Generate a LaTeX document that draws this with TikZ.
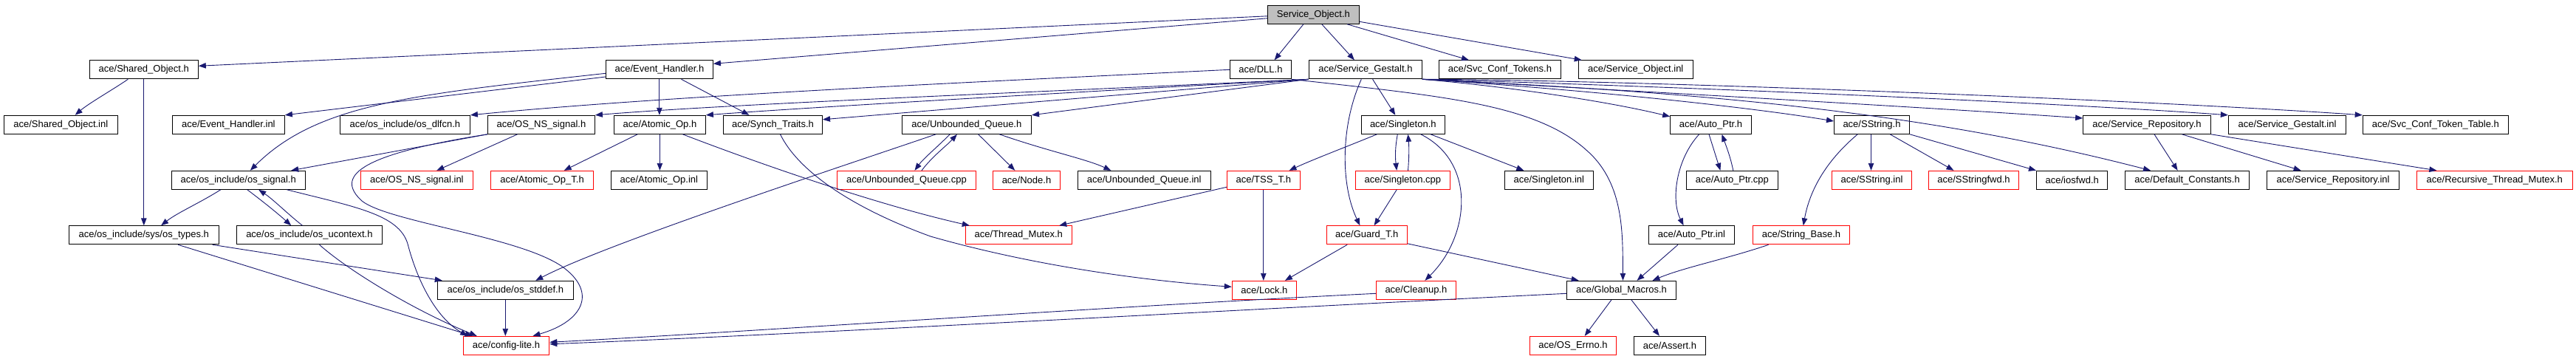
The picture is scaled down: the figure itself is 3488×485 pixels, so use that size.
\documentclass[tikz,border=0pt]{standalone}
\usepackage{fontspec}
\setmainfont{Liberation Sans}
\usetikzlibrary{arrows.meta}
\definecolor{edgecol}{HTML}{191970}
\definecolor{rootgray}{HTML}{BFBFBF}
\definecolor{redline}{HTML}{FF0000}
\begin{document}
\begin{tikzpicture}[x=1pt,y=-1pt,
  bx/.style={draw=black,line width=1pt,minimum height=25pt,inner sep=0pt,font=\fontsize{13pt}{15pt}\selectfont},
  rbx/.style={bx,draw=redline},
  dep/.style={draw=edgecol,line width=0.9pt,-{Triangle[length=10pt,width=7.5pt]},fill=none}]
\useasboundingbox (0,0) rectangle (3488,485);
\fill[white] (0,0) rectangle (3488,485);
% row 0
\node[bx,fill=rootgray,minimum width=124pt] (SO) at (1778.4,19.8) {Service\_Object.h};
% row 1
\node[bx,minimum width=147pt] (SharedObj) at (194.8,94.3) {ace/Shared\_Object.h};
\node[bx,minimum width=145pt] (EventH) at (892.9,94.3) {ace/Event\_Handler.h};
\node[bx,minimum width=83pt] (DLL) at (1706.9,94.3) {ace/DLL.h};
\node[bx,minimum width=153pt] (SG) at (1848.9,94.3) {ace/Service\_Gestalt.h};
\node[bx,minimum width=164.5pt] (SvcTok) at (2030.9,94.3) {ace/Svc\_Conf\_Tokens.h};
\node[bx,minimum width=155pt] (SOinl) at (2214.7,94.3) {ace/Service\_Object.inl};
% row 2
\node[bx,minimum width=154pt] (SharedObjInl) at (82.3,168.8) {ace/Shared\_Object.inl};
\node[bx,minimum width=152pt] (EventHinl) at (309.4,168.8) {ace/Event\_Handler.inl};
\node[bx,minimum width=176pt] (osdlfcn) at (548.4,168.8) {ace/os\_include/os\_dlfcn.h};
\node[bx,minimum width=145pt] (OSNSsignal) at (732.9,168.8) {ace/OS\_NS\_signal.h};
\node[bx,minimum width=124pt] (AtomicOp) at (893.4,168.8) {ace/Atomic\_Op.h};
\node[bx,minimum width=134pt] (SynchTraits) at (1046.5,168.8) {ace/Synch\_Traits.h};
\node[bx,minimum width=175.3pt] (UQ) at (1308.9,168.8) {ace/Unbounded\_Queue.h};
\node[bx,minimum width=113pt] (Singleton) at (1899.8,168.8) {ace/Singleton.h};
\node[bx,minimum width=109.7pt] (AutoPtr) at (2316.5,168.8) {ace/Auto\_Ptr.h};
\node[bx,minimum width=102pt] (SString) at (2534.5,168.8) {ace/SString.h};
\node[bx,minimum width=172.8pt] (ServiceRepo) at (2907,168.8) {ace/Service\_Repository.h};
\node[bx,minimum width=159.3pt] (SGinl) at (3097,168.8) {ace/Service\_Gestalt.inl};
\node[bx,minimum width=197.2pt] (SvcTokTable) at (3297.8,168.8) {ace/Svc\_Conf\_Token\_Table.h};
% row 3
\node[bx,minimum width=181pt] (ossignal) at (322.8,243.8) {ace/os\_include/os\_signal.h};
\node[rbx,minimum width=152.2pt] (OSNSsignalinl) at (564.4,243.8) {ace/OS\_NS\_signal.inl};
\node[rbx,minimum width=139pt] (AtomicOpT) at (734,243.8) {ace/Atomic\_Op\_T.h};
\node[bx,minimum width=130pt] (AtomicOpinl) at (892.3,243.8) {ace/Atomic\_Op.inl};
\node[rbx,minimum width=188pt] (UQcpp) at (1227.5,243.8) {ace/Unbounded\_Queue.cpp};
\node[rbx,minimum width=91pt] (NodeH) at (1390,243.8) {ace/Node.h};
\node[bx,minimum width=179.8pt] (UQinl) at (1549.2,243.8) {ace/Unbounded\_Queue.inl};
\node[rbx,minimum width=99pt] (TSST) at (1710.8,243.8) {ace/TSS\_T.h};
\node[rbx,minimum width=128pt] (Singletoncpp) at (1899.4,243.8) {ace/Singleton.cpp};
\node[bx,minimum width=119.7pt] (Singletoninl) at (2097.3,243.8) {ace/Singleton.inl};
\node[bx,minimum width=124pt] (AutoPtrcpp) at (2345.4,243.8) {ace/Auto\_Ptr.cpp};
\node[rbx,minimum width=108.4pt] (SStringinl) at (2534.5,243.8) {ace/SString.inl};
\node[rbx,minimum width=122.5pt] (SStringfwd) at (2672.5,243.8) {ace/SStringfwd.h};
\node[bx,minimum width=96.5pt] (iosfwd) at (2805.7,243.8) {ace/iosfwd.h};
\node[bx,minimum width=168pt] (DefaultConst) at (2961.6,243.8) {ace/Default\_Constants.h};
\node[bx,minimum width=179.2pt] (ServiceRepoinl) at (3159.1,243.8) {ace/Service\_Repository.inl};
\node[rbx,minimum width=211.5pt] (RecThreadMutex) at (3377.8,243.8) {ace/Recursive\_Thread\_Mutex.h};
% row 4
\node[bx,minimum width=202.8pt] (ostypes) at (194.8,318.3) {ace/os\_include/sys/os\_types.h};
\node[bx,minimum width=197pt] (osucontext) at (418.9,318.3) {ace/os\_include/os\_ucontext.h};
\node[rbx,minimum width=144pt] (ThreadMutex) at (1379.3,318.3) {ace/Thread\_Mutex.h};
\node[rbx,minimum width=109pt] (GuardT) at (1850.8,318.3) {ace/Guard\_T.h};
\node[bx,minimum width=115.8pt] (AutoPtrinl) at (2290.4,318.3) {ace/Auto\_Ptr.inl};
\node[rbx,minimum width=131pt] (StringBase) at (2439,318.3) {ace/String\_Base.h};
% row 5
\node[bx,minimum width=184pt] (osstddef) at (684.3,392.8) {ace/os\_include/os\_stddef.h};
\node[rbx,minimum width=87.3pt] (Lock) at (1711.9,392.8) {ace/Lock.h};
\node[rbx,minimum width=108pt] (Cleanup) at (1917.4,392.8) {ace/Cleanup.h};
\node[bx,minimum width=147.7pt] (GlobalMacros) at (2195.5,392.8) {ace/Global\_Macros.h};
% row 6
\node[rbx,minimum width=116.7pt] (configlite) at (685.5,467.8) {ace/config-lite.h};
\node[rbx,minimum width=117pt] (OSErrno) at (2130,467.8) {ace/OS\_Errno.h};
\node[bx,minimum width=97pt] (Assert) at (2260.9,467.8) {ace/Assert.h};
% edges from Service_Object.h
\draw[dep] ([yshift=-2pt]SO.west) -- ([yshift=5pt]SharedObj.east);
\draw[dep] ([yshift=-5pt]SO.west) -- ([yshift=8pt]EventH.east);
\draw[dep] ([xshift=-13.5pt]SO.south) -- ([xshift=18.7pt]DLL.north);
\draw[dep] ([xshift=11.4pt]SO.south) -- ([xshift=-15pt]SG.north);
\draw[dep] ([xshift=45.8pt]SO.south) -- ([xshift=-42pt]SvcTok.north);
\draw[dep] ([yshift=-9.5pt]SO.east) -- ([xshift=5pt]SOinl.north west);
% Shared_Object.h
\draw[dep] ([xshift=-21.5pt]SharedObj.south) .. controls (155,120) and (120,140) .. ([xshift=19.4pt]SharedObjInl.north);
\draw[dep] (SharedObj.south) -- (ostypes.north);
% Event_Handler.h
\draw[dep] ([yshift=-9.7pt]EventH.west) -- (EventHinl.north east);
\draw[dep] ([yshift=-5pt]EventH.west) .. controls (560,128) and (430,140) .. ([xshift=16pt]ossignal.north);
\draw[dep] (EventH.south) -- (EventH.south |- AtomicOp.north);
\draw[dep] ([xshift=29.6pt]EventH.south) -- ([xshift=-32pt]SynchTraits.north);
% DLL.h
\draw[dep] (DLL.west) .. controls (1300,112) and (900,130) .. (osdlfcn.north east);
\draw[dep] (DLL.south east) .. controls (1950,130) and (2080,140) .. (2150,205) .. controls (2200,250) and (2197,320) .. ([xshift=2pt]GlobalMacros.north);
% Service_Gestalt.h
\draw[dep] (SG.south west) .. controls (1400,125) and (1000,140) .. (OSNSsignal.north east);
\draw[dep] (SG.south west) .. controls (1400,128) and (1100,145) .. (AtomicOp.north east);
\draw[dep] (SG.south west) -- ([yshift=7pt]SynchTraits.east);
\draw[dep] (SG.south west) -- (UQ.north east);
\draw[dep] ([xshift=9.7pt]SG.south) -- ([xshift=-10.5pt]Singleton.north);
\draw[dep] ([xshift=-5.6pt]SG.south) .. controls (1815,170) and (1815,250) .. ([xshift=-9.4pt]GuardT.north);
\draw[dep] (SG.south east) .. controls (2050,118) and (2180,138) .. ([yshift=-2pt]AutoPtr.north west);
\draw[dep] (SG.south east) .. controls (2200,125) and (2400,150) .. ([yshift=4.8pt]SString.west);
\draw[dep] (SG.south east) .. controls (2250,125) and (2650,148) .. ([yshift=8.8pt]ServiceRepo.west);
\draw[dep] (SG.south east) .. controls (2300,125) and (2600,150) .. ([xshift=-49.6pt]DefaultConst.north);
\draw[dep] (SG.south east) .. controls (2300,118) and (2800,140) .. (SGinl.north west);
\draw[dep] (SG.south east) .. controls (2200,108) and (2900,135) .. (SvcTokTable.north west);
% OS_NS_signal.h
\draw[dep] (OSNSsignal.south west) -- ([xshift=71.4pt]ossignal.north);
\draw[dep] (OSNSsignal.south west) .. controls (480,210) and (455,240) .. (490,272) .. controls (525,300) and (700,320) .. (760,360) .. controls (810,395) and (790,435) .. ([xshift=36pt]configlite.north);
\draw[dep] ([xshift=-32.3pt]OSNSsignal.south) -- ([xshift=27pt]OSNSsignalinl.north);
% Atomic_Op.h
\draw[dep] ([xshift=-30.2pt]AtomicOp.south) -- ([xshift=29.7pt]AtomicOpT.north);
\draw[dep] (AtomicOp.south) -- (AtomicOp.south |- AtomicOpinl.north);
\draw[dep] ([xshift=31pt]AtomicOp.south) .. controls (1050,230) and (1200,280) .. ([xshift=6pt]ThreadMutex.north west);
% Synch_Traits.h
\draw[dep] ([xshift=10pt]SynchTraits.south) .. controls (1080,230) and (1150,280) .. (1260,320) .. controls (1400,360) and (1550,380) .. ([yshift=4.5pt]Lock.west);
% Unbounded_Queue.h
\draw[dep] ([xshift=-22.6pt]UQ.south) .. controls (1268,200) and (1250,215) .. ([xshift=11pt]UQcpp.north);
\draw[dep] ([xshift=20.5pt]UQcpp.north) .. controls (1262,212) and (1282,197) .. ([xshift=-13pt]UQ.south);
\draw[dep] ([xshift=15.7pt]UQ.south) -- ([xshift=-15.7pt]NodeH.north);
\draw[dep] ([xshift=44.4pt]UQ.south) .. controls (1420,205) and (1470,215) .. ([xshift=-44.8pt]UQinl.north);
\draw[dep] ([xshift=-41.7pt]UQ.south) .. controls (1150,222) and (820,330) .. ([xshift=41pt]osstddef.north);
% os_signal.h
\draw[dep] ([xshift=-24pt]ossignal.south) .. controls (270,275) and (240,288) .. ([xshift=23.3pt]ostypes.north);
\draw[dep] ([xshift=12pt]ossignal.south) .. controls (355,272) and (375,288) .. ([xshift=-24.7pt]osucontext.north);
\draw[dep] ([xshift=-9.4pt]osucontext.north) .. controls (390,290) and (370,270) .. ([xshift=27.4pt]ossignal.south);
\draw[dep] ([xshift=65.6pt]ossignal.south) .. controls (480,280) and (540,290) .. (552,330) .. controls (565,380) and (590,430) .. ([xshift=6.5pt]configlite.north west);
% os_types.h, os_ucontext.h, os_stddef.h
\draw[dep] ([xshift=46.3pt]ostypes.south) -- ([xshift=13pt]configlite.north west);
\draw[dep] ([xshift=-9pt]ostypes.south east) -- ([xshift=7pt]osstddef.north west);
\draw[dep] ([xshift=13.6pt]osucontext.south) .. controls (470,365) and (560,420) .. ([xshift=19pt]configlite.north west);
\draw[dep] (osstddef.south) -- (osstddef.south |- configlite.north);
% Singleton.h
\draw[dep] ([xshift=-35.4pt]Singleton.south) .. controls (1820,200) and (1780,215) .. ([xshift=34.7pt]TSST.north);
\draw[dep] ([xshift=-7.5pt]Singleton.south) .. controls (1889,200) and (1889,212) .. ([xshift=-8.2pt]Singletoncpp.north);
\draw[dep] ([xshift=7.1pt]Singletoncpp.north) .. controls (1908,212) and (1908,200) .. ([xshift=6.7pt]Singleton.south);
\draw[dep] ([xshift=24pt]Singleton.south) .. controls (2000,220) and (1990,320) .. ([xshift=12pt]Cleanup.north);
\draw[dep] ([xshift=37.3pt]Singleton.south) -- ([xshift=-34pt]Singletoninl.north);
\draw[dep] ([xshift=-8.2pt]Singletoncpp.south) -- ([xshift=9.8pt]GuardT.north);
% Guard_T.h, TSS_T.h
\draw[dep] ([xshift=-26.6pt]GuardT.south) -- ([xshift=28pt]Lock.north);
\draw[dep] ([yshift=1.5pt]GuardT.south east) -- ([xshift=16.5pt]GlobalMacros.north west);
\draw[dep] ([yshift=-9.5pt]TSST.west) -- ([xshift=-17.6pt]ThreadMutex.north east);
\draw[dep] (TSST.south) -- (TSST.south |- Lock.north);
% Cleanup.h, Global_Macros.h
\draw[dep] ([yshift=-4.5pt]Cleanup.west) .. controls (1500,415) and (1000,450) .. ([yshift=4.5pt]configlite.east);
\draw[dep] ([yshift=-4.5pt]GlobalMacros.west) .. controls (1700,418) and (1100,452) .. ([yshift=2pt]configlite.east);
\draw[dep] ([xshift=-13.5pt]GlobalMacros.south) -- ([xshift=15.7pt]OSErrno.north);
\draw[dep] ([xshift=13.3pt]GlobalMacros.south) -- ([xshift=-14pt]Assert.north);
% Auto_Ptr.h
\draw[dep] ([xshift=-2.5pt]AutoPtr.south) -- ([xshift=-16pt]AutoPtrcpp.north);
\draw[dep] ([xshift=1.4pt]AutoPtrcpp.north) .. controls (2343,212) and (2337,197) .. ([xshift=15pt]AutoPtr.south);
\draw[dep] ([xshift=-15.8pt]AutoPtr.south) .. controls (2270,215) and (2262,270) .. ([xshift=-10.8pt]AutoPtrinl.north);
\draw[dep] ([xshift=-18.4pt]AutoPtrinl.south) -- ([xshift=21pt]GlobalMacros.north);
\draw[dep] ([xshift=-44.4pt]StringBase.south) .. controls (2340,350) and (2280,362) .. ([xshift=42pt]GlobalMacros.north);
% SString.h
\draw[dep] ([xshift=-19.3pt]SString.south) .. controls (2470,220) and (2450,260) .. ([xshift=2.7pt]StringBase.north);
\draw[dep] ([xshift=-1pt]SString.south) -- ([xshift=-1pt]SStringinl.north);
\draw[dep] ([xshift=24.7pt]SString.south) -- ([xshift=-27pt]SStringfwd.north);
\draw[dep] (SString.south east) -- (iosfwd.north west);
% Service_Repository.h
\draw[dep] ([xshift=10pt]ServiceRepo.south) -- ([xshift=-13pt]DefaultConst.north);
\draw[dep] ([xshift=47.4pt]ServiceRepo.south) -- ([xshift=-43.5pt]ServiceRepoinl.north);
\draw[dep] (ServiceRepo.south east) -- ([xshift=-78.5pt]RecThreadMutex.north);
\end{tikzpicture}
\end{document}
